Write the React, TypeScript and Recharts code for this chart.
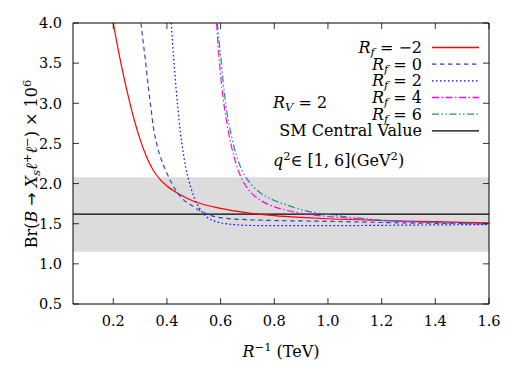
import React from "react";
import { LineChart, Line, XAxis, YAxis, ReferenceArea, ReferenceLine } from "recharts";

// R^{-1} in TeV against Br x 10^6, one curve per R_f value (R_V = 2)
const rfM2X = [0.2, 0.22, 0.24, 0.26, 0.28, 0.3, 0.325, 0.35, 0.375, 0.4, 0.45, 0.5, 0.6, 0.7, 0.8, 0.9, 1.0, 1.2, 1.4, 1.6];
const rfM2Y = [4.0, 3.64, 3.32, 3.03, 2.77, 2.55, 2.325, 2.16, 2.05, 1.97, 1.86, 1.78, 1.69, 1.635, 1.6, 1.578, 1.562, 1.54, 1.525, 1.51];

const rf0X = [0.303, 0.31, 0.32, 0.33, 0.34, 0.35, 0.36, 0.38, 0.4, 0.42, 0.45, 0.5, 0.55, 0.6, 0.7, 0.8, 1.0, 1.2, 1.4, 1.6];
const rf0Y = [4.0, 3.8, 3.53, 3.22, 2.95, 2.69, 2.52, 2.29, 2.13, 1.99, 1.84, 1.71, 1.62, 1.575, 1.55, 1.54, 1.53, 1.515, 1.505, 1.5];

const rf2X = [0.416, 0.42, 0.43, 0.44, 0.45, 0.46, 0.47, 0.48, 0.5, 0.52, 0.55, 0.58, 0.62, 0.7, 0.8, 1.0, 1.2, 1.4, 1.6];
const rf2Y = [4.0, 3.8, 3.35, 2.97, 2.64, 2.4, 2.2, 2.06, 1.84, 1.7, 1.58, 1.53, 1.5, 1.48, 1.475, 1.475, 1.48, 1.485, 1.49];

const rf4X = [0.585, 0.59, 0.6, 0.61, 0.62, 0.64, 0.66, 0.68, 0.7, 0.75, 0.8, 0.85, 0.9, 1.0, 1.1, 1.2, 1.3, 1.4, 1.5, 1.6];
const rf4Y = [4.0, 3.75, 3.35, 3.05, 2.82, 2.47, 2.22, 2.05, 1.94, 1.79, 1.71, 1.665, 1.63, 1.59, 1.565, 1.54, 1.525, 1.515, 1.505, 1.5];

const rf6X = [0.588, 0.595, 0.6, 0.61, 0.62, 0.64, 0.66, 0.68, 0.7, 0.75, 0.8, 0.85, 0.9, 1.0, 1.1, 1.2, 1.3, 1.4, 1.5, 1.6];
const rf6Y = [4.0, 3.75, 3.6, 3.25, 2.97, 2.6, 2.34, 2.16, 2.05, 1.88, 1.79, 1.73, 1.675, 1.615, 1.575, 1.545, 1.525, 1.515, 1.505, 1.5];

// SM central value and its error band
const smValue = 1.62;
const smBand = [1.15, 2.08];

const xDomain = [0.05, 1.6];
const yDomain = [0.5, 4.0];
const xTicks = [0.2, 0.4, 0.6, 0.8, 1.0, 1.2, 1.4, 1.6];
const yTicks = [0.5, 1.0, 1.5, 2.0, 2.5, 3.0, 3.5, 4.0];

const FONT = "'DejaVu Serif', serif";

const toPoints = (xs: number[], ys: number[]) => xs.map((x, i) => ({ x, y: ys[i] }));

const series = [
  { key: "m2", label: "−2", data: toPoints(rfM2X, rfM2Y), color: "#ff0000", dash: undefined },
  { key: "0", label: "0", data: toPoints(rf0X, rf0Y), color: "#2f45c0", dash: "4.5 3.5" },
  { key: "2", label: "2", data: toPoints(rf2X, rf2Y), color: "#0000ff", dash: "1.5 2.5" },
  { key: "4", label: "4", data: toPoints(rf4X, rf4Y), color: "#ff00ff", dash: "7 2.5 1.5 2.5" },
  { key: "6", label: "6", data: toPoints(rf6X, rf6Y), color: "#1f8a96", dash: "7 2.5 1.5 2.5 1.5 2.5" },
];

// inward tick length in data units
const xTickLen = 0.0224;
const yTickLen = 0.075;

function XTick(props: any) {
  const { x, y, payload } = props;
  return (
    <text x={x} y={y} dy="0.71em" textAnchor="middle" fontFamily={FONT} fontSize={14.5} fill="#000">
      {Number(payload.value).toFixed(1)}
    </text>
  );
}

function YTick(props: any) {
  const { x, y, payload } = props;
  return (
    <text x={x} y={y} dy="0.36em" textAnchor="end" fontFamily={FONT} fontSize={14.5} fill="#000">
      {Number(payload.value).toFixed(1)}
    </text>
  );
}

function Overlay() {
  const rowY = [53, 69.7, 86.3, 103, 119.7, 136.3];
  const textRight = 422;
  return (
    <svg
      width={525}
      height={368}
      style={{ position: "absolute", left: 0, top: 0, pointerEvents: "none" }}
      fontFamily={FONT}
    >
      {series.map((s, i) => (
        <g key={s.key}>
          <text x={textRight} y={rowY[i]} textAnchor="end" fontSize={16}>
            <tspan fontStyle="italic">R</tspan>
            <tspan dy={3} fontSize={11.5} fontStyle="italic">f</tspan>
            <tspan dy={-3}> = {s.label}</tspan>
          </text>
          <line
            x1={432}
            x2={479}
            y1={rowY[i] - 5.5}
            y2={rowY[i] - 5.5}
            stroke={s.color}
            strokeWidth={1.3}
            strokeDasharray={s.dash}
          />
        </g>
      ))}
      <text x={textRight} y={rowY[5]} textAnchor="end" fontSize={16}>
        SM Central Value
      </text>
      <line x1={432} x2={479} y1={rowY[5] - 5.5} y2={rowY[5] - 5.5} stroke="#000" strokeWidth={1.3} />

      <text x={273} y={108} fontSize={16}>
        <tspan fontStyle="italic">R</tspan>
        <tspan dy={3} fontSize={11.5} fontStyle="italic">V</tspan>
        <tspan dy={-3}> = 2</tspan>
      </text>
      <text x={273} y={166} fontSize={16}>
        <tspan fontStyle="italic">q</tspan>
        <tspan dy={-6} fontSize={11.5}>2</tspan>
        <tspan dy={6}>∈ [1, 6](GeV</tspan>
        <tspan dy={-6} fontSize={11.5}>2</tspan>
        <tspan dy={6}>)</tspan>
      </text>

      <text x={281} y={357} textAnchor="middle" fontSize={16}>
        <tspan fontStyle="italic">R</tspan>
        <tspan dy={-6} fontSize={11.5}>−1</tspan>
        <tspan dy={6}> (TeV)</tspan>
      </text>

      <text transform="translate(37,164) rotate(-90)" textAnchor="middle" fontSize={16}>
        <tspan>Br(</tspan>
        <tspan fontStyle="italic">B</tspan>
        <tspan fontFamily="'DejaVu Sans', sans-serif"> → </tspan>
        <tspan fontStyle="italic">X</tspan>
        <tspan dy={3} fontSize={11.5} fontStyle="italic">s</tspan>
        <tspan dy={-3} fontStyle="italic">ℓ</tspan>
        <tspan dy={-6} fontSize={11.5}>+</tspan>
        <tspan dy={6} fontStyle="italic">ℓ</tspan>
        <tspan dy={-6} fontSize={11.5}>−</tspan>
        <tspan dy={6}>) × 10</tspan>
        <tspan dy={-6} fontSize={11.5}>6</tspan>
      </text>
    </svg>
  );
}

export default function App() {
  return (
    <div style={{ position: "absolute", left: 0, top: 0, width: 525, height: 368, background: "#fff" }}>
      <LineChart width={525} height={368} margin={{ top: 23, right: 36, bottom: 34, left: 33 }}>
        <XAxis
          dataKey="x"
          type="number"
          domain={xDomain}
          ticks={xTicks}
          allowDataOverflow
          tick={<XTick />}
          tickLine={false}
          axisLine={false}
          tickSize={0}
          tickMargin={12}
          height={30}
        />
        <YAxis
          type="number"
          domain={yDomain}
          ticks={yTicks}
          allowDataOverflow
          tick={<YTick />}
          tickLine={false}
          axisLine={false}
          tickSize={0}
          tickMargin={11}
          width={40}
        />
        <ReferenceArea y1={smBand[0]} y2={smBand[1]} x1={xDomain[0]} x2={xDomain[1]} fill="#dcdcdc" fillOpacity={1} stroke="none" />
        <ReferenceLine y={smValue} stroke="#000" strokeWidth={1.2} />
        {series.map((s) => (
          <Line
            key={s.key}
            data={s.data}
            dataKey="y"
            type="monotone"
            dot={false}
            stroke={s.color}
            strokeWidth={1.2}
            strokeDasharray={s.dash}
            isAnimationActive={false}
          />
        ))}
        {xTicks.map((t) => (
          <ReferenceLine key={`xb${t}`} segment={[{ x: t, y: yDomain[0] }, { x: t, y: yDomain[0] + yTickLen }]} stroke="#000" strokeWidth={0.8} />
        ))}
        {xTicks.map((t) => (
          <ReferenceLine key={`xt${t}`} segment={[{ x: t, y: yDomain[1] }, { x: t, y: yDomain[1] - yTickLen }]} stroke="#000" strokeWidth={0.8} />
        ))}
        {yTicks.map((t) => (
          <ReferenceLine key={`yl${t}`} segment={[{ x: xDomain[0], y: t }, { x: xDomain[0] + xTickLen, y: t }]} stroke="#000" strokeWidth={0.8} />
        ))}
        {yTicks.map((t) => (
          <ReferenceLine key={`yr${t}`} segment={[{ x: xDomain[1], y: t }, { x: xDomain[1] - xTickLen, y: t }]} stroke="#000" strokeWidth={0.8} />
        ))}
        <ReferenceArea x1={xDomain[0]} x2={xDomain[1]} y1={yDomain[0]} y2={yDomain[1]} fill="none" stroke="#000" strokeWidth={1} />
      </LineChart>
      <Overlay />
    </div>
  );
}
